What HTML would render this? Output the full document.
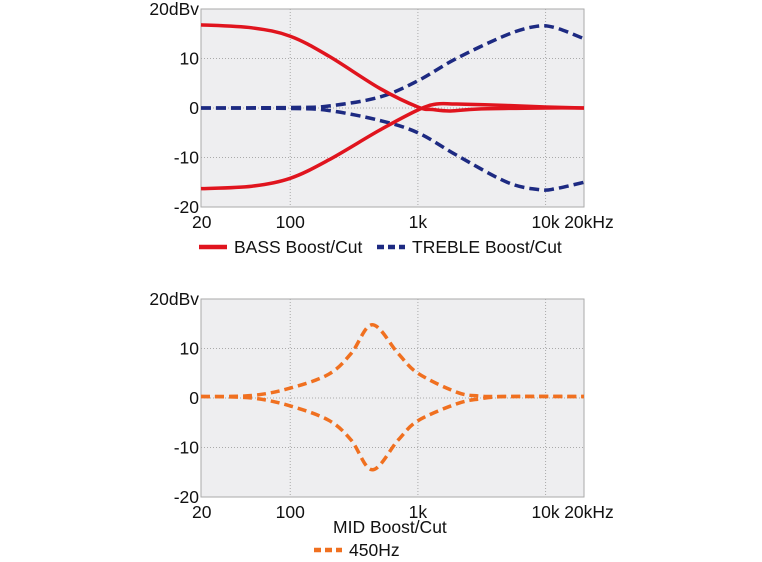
<!DOCTYPE html>
<html><head><meta charset="utf-8"><style>
html,body{margin:0;padding:0;background:#fff;}
svg{display:block;font-family:"Liberation Sans",Arial,sans-serif;}
</style></head><body>
<svg id="svg" width="762" height="562" xmlns="http://www.w3.org/2000/svg"></svg>
<script>
const xTicks=[20,100,1000,10000,20000];
const xTickLabels=["20","100","1k","10k","20kHz"];
const yTicks=[20,10,0,-10,-20];
const yTickLabels=["20dBv","10","0","-10","-20"];
const bassBoostF=[20,50,100,200,500,1000,1300,1800,3000,10000,20000];
const bassBoostV=[16.8,16.2,14.5,10.5,4,0.2,-0.3,-0.6,-0.2,0,0];
const bassCutF=[20,50,100,200,500,1000,1400,2000,5000,10000,20000];
const bassCutV=[-16.3,-15.8,-14.2,-10.5,-4.5,-0.4,0.8,0.8,0.5,0.2,0];
const trebleBoostF=[20,100,200,500,1000,2000,5000,8500,12000,20000];
const trebleBoostV=[0,0.1,0.4,2.2,5.5,10,14.8,16.5,16.2,14];
const trebleCutF=[20,100,200,500,1000,2000,5000,9000,12000,20000];
const trebleCutV=[0,-0.1,-0.5,-2.5,-5,-9.5,-15,-16.5,-16.3,-15];
const midBoostF=[20,50,100,200,300,440,700,1000,2000,3000,5000,20000];
const midBoostV=[0.3,0.5,2,4.8,9,14.8,9,5,1.2,0.4,0.3,0.3];
const midCutF=[20,50,100,200,300,440,700,1000,2000,3000,5000,20000];
const midCutV=[0.3,0,-1.6,-4.5,-8.5,-14.5,-8.5,-4.6,-1.2,-0.2,0.3,0.3];

const NS="http://www.w3.org/2000/svg";
const svg=document.getElementById('svg');
function mk(t,a,p){const e=document.createElementNS(NS,t);for(const k in a)e.setAttribute(k,a[k]);(p||svg).appendChild(e);return e;}
function chart(top,bottom,name){
  const L=201,R=584;
  const xs=f=>L+(Math.log10(f)-Math.log10(20))/(Math.log10(20000)-Math.log10(20))*(R-L);
  const ys=v=>top+(20-v)/40*(bottom-top);
  const g=mk('g',{});
  
  
  const bg=mk('rect',{x:L,y:top,width:R-L,height:bottom-top,fill:'#eeeef0',stroke:'#aaa','stroke-width':1},g);
  
  
  xTicks.forEach((f,i)=>{
    if(i>0&&i<xTicks.length-1){const l=mk('line',{x1:xs(f),x2:xs(f),y1:top,y2:bottom,stroke:'#aaa','stroke-dasharray':'1,2'},g);
    
    }
    const t=mk('text',{x:xs(f),y:bottom+21,'font-size':17.5,'text-anchor':'middle',fill:'#111'},g);
    if(i==0){t.setAttribute('x',xs(f)-9);t.setAttribute('text-anchor','start');}
    if(i==xTicks.length-1)t.setAttribute('x',xs(f)+5);
    
    
    t.textContent=xTickLabels[i];
  });
  yTicks.forEach((v,i)=>{
    if(v!=20&&v!=-20){const l=mk('line',{x1:L,x2:R,y1:ys(v),y2:ys(v),stroke:'#aaa','stroke-dasharray':'1,2'},g);
    
    }
    const t=mk('text',{x:199,y:ys(v)+6,'font-size':17.5,'text-anchor':'end',fill:'#111'},g);
    
    
    t.textContent=yTickLabels[i];
  });
  return {xs,ys,g};
}
function curve(c,F,V,color,dash,name){
  const p=F.map((f,i)=>[c.xs(f),c.ys(V[i])]);
  let d='M'+p[0][0]+','+p[0][1];
  for(let i=0;i<p.length-1;i++){
    const p0=p[Math.max(0,i-1)],p1=p[i],p2=p[i+1],p3=p[Math.min(p.length-1,i+2)];
    const c1=[p1[0]+(p2[0]-p0[0])/6,p1[1]+(p2[1]-p0[1])/6];
    const c2=[p2[0]-(p3[0]-p1[0])/6,p2[1]-(p3[1]-p1[1])/6];
    d+=` C${c1[0]},${c1[1]} ${c2[0]},${c2[1]} ${p2[0]},${p2[1]}`;
  }
  const e=mk('path',{d,fill:'none',stroke:color,'stroke-width':3.5,'stroke-dasharray':dash||'none'},c.g);
  
  
}
const c1=chart(9,207,'bass-treble-chart');
curve(c1,trebleBoostF,trebleBoostV,'#1d2a82','10,5','treble-boost-line');
curve(c1,trebleCutF,trebleCutV,'#1d2a82','10,5','treble-cut-line');
curve(c1,bassBoostF,bassBoostV,'#e0141e',null,'bass-boost-line');
curve(c1,bassCutF,bassCutV,'#e0141e',null,'bass-cut-line');
const c2=chart(299,497,'mid-chart');
curve(c2,midBoostF,midBoostV,'#f07020','9,5','mid-boost-line');
curve(c2,midCutF,midCutV,'#f07020','9,5','mid-cut-line');

function legend(x,y,color,dash,label,name){
  const g=mk('g',{});
  
  
  mk('line',{x1:x,x2:x+28,y1:y,y2:y,stroke:color,'stroke-width':4.5,'stroke-dasharray':dash||'none'},g);
  const t=mk('text',{x:x+35,y:y+6,'font-size':17.5,fill:'#111'},g);
  t.textContent=label;
}
legend(199,247,'#e0141e',null,'BASS Boost/Cut','legend-bass');
legend(377,247,'#1d2a82','7,4','TREBLE Boost/Cut','legend-treble');
const mt=mk('text',{x:333,y:533,'font-size':17.5,fill:'#111'});


mt.textContent='MID Boost/Cut';
legend(314,550,'#f07020','7,4','450Hz','legend-mid');
</script>
</body></html>
